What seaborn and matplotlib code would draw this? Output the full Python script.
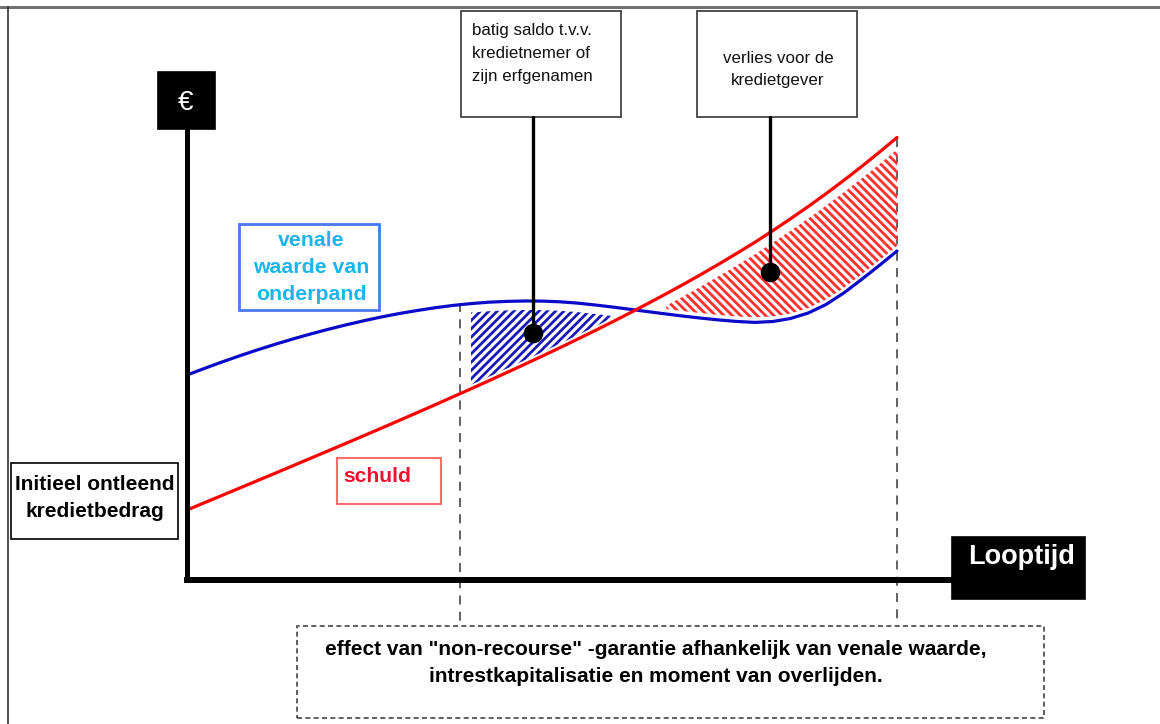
import numpy as np
import matplotlib
matplotlib.use("Agg")
import matplotlib.pyplot as plt
import matplotlib.patches as mpatches
import seaborn as sns

# Looptijd (time) and the two curves
looptijd = [0.0, 0.25, 0.5, 0.75, 1.0, 1.25, 1.5, 1.75, 2.0, 2.25, 2.5, 2.75, 3.0, 3.25,
            3.5, 3.75, 4.0, 4.25, 4.5, 4.75, 5.0, 5.25, 5.5, 5.75, 6.0, 6.25, 6.5, 6.75,
            7.0, 7.25, 7.5, 7.75, 8.0, 8.25, 8.5, 8.75, 9.0, 9.25, 9.5, 9.75, 10.0]
venale_waarde = [205.0, 211.7, 218.2, 224.4, 230.3, 235.9, 241.2, 246.2, 250.9, 255.3,
                 259.4, 263.2, 266.6, 269.6, 272.3, 274.6, 276.4, 277.8, 278.6, 279.0,
                 278.9, 278.2, 276.9, 275.0, 272.9, 270.6, 268.3, 266.0, 263.8, 261.8,
                 260.0, 258.5, 257.6, 258.5, 261.5, 267.0, 275.5, 287.0, 300.5, 314.5, 329.0]
schuld = [70.0, 77.4, 84.8, 92.2, 99.6, 107.0, 114.5, 122.0, 129.5, 137.0,
          144.6, 152.2, 159.9, 167.6, 175.4, 183.3, 191.2, 199.2, 207.3, 215.5,
          223.8, 232.2, 240.8, 249.5, 258.4, 267.5, 276.8, 286.3, 296.0, 306.0,
          316.3, 326.9, 337.8, 349.3, 361.2, 373.5, 386.3, 399.6, 413.4, 427.7, 442.5]

# callout points (batig saldo, verlies)
callout_t = [4.87, 8.21]
callout_v = [247, 308]

sns.set_style("white")
plt.rcParams['font.family'] = ['Liberation Sans', 'DejaVu Sans']
plt.rcParams['hatch.linewidth'] = 2.0

t = np.array(looptijd)
blue = np.array(venale_waarde)
red = np.array(schuld)

fig = plt.figure(figsize=(11.6, 7.24), dpi=100)
ax = fig.add_axes([0, 0, 1, 1])
ax.set_xlim(-187 / 71, (1160 - 187) / 71)
ax.set_ylim(-144, 580)
ax.axis('off')


# pixel -> data helpers for the layout
def px(x):
    return (x - 187) / 71


def py(y):
    return 580 - y


def box(x0, y0, x1, y1, ec, lw=1.2, ls='-', fc='none', z=3):
    ax.add_patch(mpatches.Rectangle((px(x0), py(y1)), (x1 - x0) / 71, y1 - y0,
                                    fill=fc != 'none', facecolor=fc, edgecolor=ec,
                                    linewidth=lw, linestyle=ls, zorder=z))


def lines(x, y0, step, rows, **kw):
    for i, row in enumerate(rows):
        ax.text(px(x), py(y0 + i * step), row, va='baseline', zorder=8, **kw)


# frame
ax.plot([px(0), px(1160)], [py(7), py(7)], color='#707070', lw=2.2, zorder=1)
ax.plot([px(8), px(8)], [py(7), py(724)], color='#333333', lw=1.2, zorder=1)

# hatched areas
ax.fill_between(t, red + 4, blue - 9, where=(t >= 4.0) & (t <= 6.0),
                facecolor='none', edgecolor='#1a1ab8', hatch='////', linewidth=0, zorder=2)
ax.fill_between(t, blue + 5, red - 12, where=(t >= 6.75),
                facecolor='none', edgecolor='#ff3030', hatch='\\\\\\\\', linewidth=0, zorder=2)

# curves
sns.lineplot(x=looptijd, y=venale_waarde, color='#0a0ac8', linewidth=2.3, sort=False,
             estimator=None, ax=ax, zorder=4)
sns.lineplot(x=looptijd, y=schuld, color='#ff0000', linewidth=2.3, sort=False,
             estimator=None, ax=ax, zorder=4)

# dashed verticals
ax.plot([px(460), px(460)], [py(303), py(622)], color='#555555', lw=1.3, ls=(0, (5, 4)), zorder=1)
ax.plot([10, 10], [schuld[-1], py(622)], color='#555555', lw=1.3, ls=(0, (5, 4)), zorder=1)

# axes
ax.plot([0, 0], [py(128), 0], color='black', lw=3.6, solid_capstyle='butt', zorder=5)
ax.plot([0, px(955)], [0, 0], color='black', lw=4.3, solid_capstyle='projecting', zorder=5)

# euro box
box(158, 72, 215, 129, 'black', fc='black', z=6)
ax.text(px(186), py(103), '€', color='white', fontsize=20, ha='center', va='center', zorder=7)

# Looptijd box
box(952, 537, 1085, 599, 'black', fc='black', z=6)
lines(1022, 564, 0, ['Looptijd'], color='white', fontsize=19.5, fontweight='bold', ha='center')

# callouts
sns.scatterplot(x=callout_t, y=callout_v, color='black', s=170, edgecolor='black', ax=ax, zorder=7)
for ct, cv in zip(callout_t, callout_v):
    ax.plot([ct, ct], [cv, py(117)], color='black', lw=2.4, zorder=6)

box(461, 11, 621, 117, '#444444', lw=1.3)
lines(472, 35.5, 23, ['batig saldo t.v.v.', 'kredietnemer of', 'zijn erfgenamen'],
      fontsize=12.2, ha='left', color='#111111')
box(697, 11, 857, 117, '#444444', lw=1.3)
lines(778, 63, 22, ['verlies voor de', 'kredietgever'], fontsize=12.2, ha='center', color='#111111')

# curve labels
box(239, 224, 379, 310, '#4a78f0', lw=2)
lines(311, 246, 27, ['venale', 'waarde van', 'onderpand'], fontsize=15.3, fontweight='bold',
      color='#1cb4ea', ha='center')
box(337, 458, 441, 504, '#ff6a6a', lw=1.5)
lines(343, 482, 0, ['schuld'], fontsize=15.2, fontweight='bold', color='#f01030', ha='left')

box(11, 463, 178, 539, 'black', lw=1.2)
lines(94.5, 490, 27, ['Initieel ontleend', 'kredietbedrag'], fontsize=15, fontweight='bold',
      color='black', ha='center')

# bottom note
box(297, 626, 1044, 718, '#444444', lw=1.2, ls=(0, (3, 2)))
lines(656, 655, 27, ['effect van "non-recourse" -garantie afhankelijk van venale waarde,',
                     'intrestkapitalisatie en moment van overlijden.'],
      fontsize=15, fontweight='bold', color='black', ha='center')

fig.savefig('out.png', dpi=100)
